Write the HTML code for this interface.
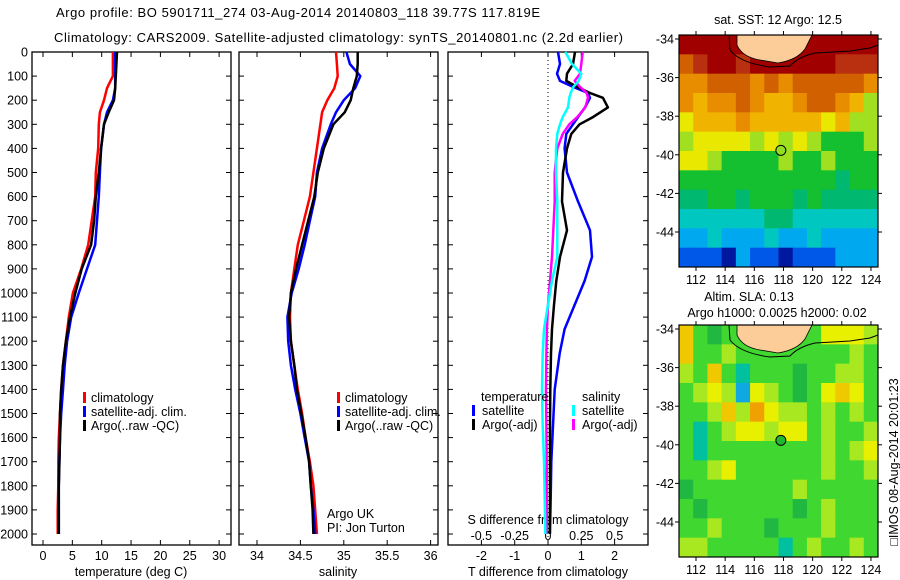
<!DOCTYPE html>
<html><head><meta charset="utf-8">
<style>
html,body{margin:0;padding:0;background:#fff;}
svg{display:block;font-family:"Liberation Sans",sans-serif;}
</style></head>
<body>
<svg id="c" width="900" height="580" viewBox="0 0 900 580" xmlns="http://www.w3.org/2000/svg">
<rect x="0" y="0" width="900" height="580" fill="#fff"/>
<text x="56" y="17" font-size="13" textLength="484">Argo profile: BO 5901711_274 03-Aug-2014 20140803_118 39.77S 117.819E</text>
<text x="54" y="42" font-size="13" textLength="569">Climatology: CARS2009. Satellite-adjusted climatology: synTS_20140801.nc (2.2d earlier)</text>
<g id="maps"></g>
<g id="panels"></g>
<text transform="translate(898,462) rotate(-90)" font-size="12.5" text-anchor="middle">□IMOS 08-Aug-2014 20:01:23</text>
</svg>
<script>
// ---------- DATA ----------
const depths = [0,50,100,150,200,250,300,400,500,600,700,800,900,1000,1100,1200,1300,1400,1500,1600,1700,1800,1900,2000];
const tempClim = [11.9,11.9,11.9,10.9,10.4,9.7,9.5,9.4,9.0,8.9,8.3,7.7,6.5,5.1,4.4,3.9,3.4,3.1,2.9,2.7,2.6,2.6,2.5,2.5];
const tempSat  = [12.3,12.3,12.3,12.3,11.9,10.9,10.4,9.9,9.7,9.5,9.2,8.9,7.5,6.1,4.8,4.1,3.7,3.4,3.1,2.9,2.8,2.7,2.7,2.7];
const tempArgo = [12.6,12.5,12.4,12.3,12.1,11.2,10.4,9.9,9.5,9.0,8.7,8.2,6.6,5.5,4.6,3.9,3.4,3.1,2.9,2.9,2.8,2.7,2.7,2.7];
const salClim = [34.91,34.92,34.93,34.89,34.81,34.75,34.73,34.69,34.65,34.61,34.54,34.47,34.43,34.39,34.38,34.39,34.43,34.47,34.52,34.56,34.61,34.65,34.67,34.69];
const salSat  = [35.03,35.07,35.19,35.13,35.00,34.91,34.85,34.75,34.69,34.67,34.61,34.55,34.48,34.40,34.35,34.36,34.39,34.44,34.50,34.55,34.60,34.62,34.65,34.67];
const salArgo = [35.16,35.16,35.15,35.11,35.08,35.01,34.88,34.77,34.70,34.66,34.59,34.52,34.45,34.39,34.37,34.39,34.43,34.46,34.51,34.56,34.60,34.62,34.64,34.65];
const dDepths = [0,50,90,120,145,170,190,230,270,300,340,400,500,620,740,850,950,1050,1150,1250,1400,1550,1700,1850,2000];
const dTempSat  = [0.30,0.36,0.27,0.36,0.75,1.20,1.26,1.11,0.90,0.75,0.55,0.50,0.57,0.90,1.26,1.32,1.10,0.80,0.50,0.35,0.20,0.15,0.10,0.08,0.06];
const dTempArgo = [0.81,0.75,0.57,0.55,0.87,1.26,1.65,1.80,1.35,0.95,0.70,0.57,0.45,0.42,0.57,0.36,0.25,0.18,0.12,0.09,0.07,0.06,0.06,0.06,0.05];
const dSalSat  = [0.13,0.18,0.25,0.23,0.19,0.17,0.16,0.15,0.11,0.09,0.07,0.06,0.06,0.07,0.07,0.07,0.03,0.0,-0.03,-0.04,-0.045,-0.04,-0.03,-0.025,-0.02];
const dSalArgo = [0.26,0.25,0.24,0.20,0.24,0.29,0.30,0.28,0.22,0.16,0.11,0.07,0.05,0.05,0.04,0.03,0.015,0.0,-0.008,-0.012,-0.015,-0.012,-0.01,-0.01,-0.01];
const depthTicks = [0,100,200,300,400,500,600,700,800,900,1000,1100,1200,1300,1400,1500,1600,1700,1800,1900,2000];
const tempTicks = [0,5,10,15,20,25,30];
const salTicks = [34,34.5,35,35.5,36];
const dTempTicks = [-2,-1,0,1,2];
const dSalTicks = [-0.5,-0.25,0,0.25,0.5];
const dSalTickLabels = ["-0.5","-0.25","0","0.25","0.5"];
const sstGrid = [
[20,20,20,20,20,20,20,20,20,20,20,20,20,20],
[18,19,20,20,19,20,20,20,20,20,20,19,19,19],
[17,17,18,18,18,17,18,17,18,18,18,18,18,17],
[17,16,17,17,18,17,16,16,17,18,18,17,16,14],
[15,16,16,16,17,16,16,16,16,16,15,16,14,14],
[14,15,15,15,15,14,15,14,15,14,13,13,13,14],
[15,15,14,13,13,13,13,14,13,13,14,13,13,13],
[13,13,13,13,13,13,13,13,13,13,13,12,13,13],
[12,12,13,13,12,13,13,13,12,13,12,12,12,12],
[11,11,11,11,11,11,12,12,11,11,11,11,11,11],
[10,10,11,10,10,10,11,10,10,11,10,10,10,10],
[9,9,9,8,10,9,9,8,9,9,9,10,10,10]];
const slaGrid = [
[6,3,2,3,3,3,3,3,3,3,5,5,5,4],
[6,3,3,4,3,3,3,3,3,3,3,3,4,3],
[4,3,6,3,1,3,3,3,2,3,3,4,4,3],
[3,4,5,4,0,5,4,3,2,3,5,6,5,3],
[3,3,4,6,4,7,5,4,4,3,4,3,4,3],
[3,1,3,4,5,5,4,5,5,3,4,3,3,4],
[3,1,3,3,3,3,3,3,3,3,4,3,4,5],
[3,3,4,5,3,3,3,3,3,3,4,3,3,4],
[2,3,3,3,3,3,3,3,4,3,3,3,3,3],
[3,2,3,3,3,3,3,3,2,3,4,3,3,3],
[3,3,4,3,3,3,2,3,3,3,4,3,3,3],
[4,4,3,3,3,3,3,1,3,4,3,3,4,3]];
const lonTicks = [112,114,116,118,120,122,124];
const latTicks = [-34,-36,-38,-40,-42,-44];
const argoLon = 117.819, argoLat = -39.77;

// ---------- helpers ----------
const NS = "http://www.w3.org/2000/svg";
function mk(tag, attrs, parent){const e=document.createElementNS(NS,tag);for(const k in attrs)e.setAttribute(k,attrs[k]);parent.appendChild(e);return e;}
const P = document.getElementById('panels');
const M = document.getElementById('maps');
const Y0=52, Y1=545;
const dy = d => Y0 + d*0.241;

function panel(x0,x1,name){
  const r=mk('rect',{x:x0,y:Y0,width:x1-x0,height:Y1-Y0,fill:'none',stroke:'#000','stroke-width':1.3},P);
  
  
  depthTicks.forEach(d=>{
    const y=dy(d);
    const t1=mk('line',{x1:x0,x2:x0+5,y1:y,y2:y,stroke:'#000'},P);
    
    
    const t2=mk('line',{x1:x1-5,x2:x1,y1:y,y2:y,stroke:'#000'},P);
    
    
  });
}
function xticks(vals,fx,labels,ylab,name){
  vals.forEach((v,i)=>{
    const x=fx(v);
    const a=mk('line',{x1:x,x2:x,y1:Y1,y2:Y1-5,stroke:'#000'},P);
    
    
    const b=mk('line',{x1:x,x2:x,y1:Y0,y2:Y0+5,stroke:'#000'},P);
    
    
    const t=mk('text',{x:x,y:ylab,'font-size':12.5,'text-anchor':'middle'},P);
    t.textContent=labels?labels[i]:String(v);
    
    
  });
}
function line(xs,ds,fx,color,name,w){
  const pts=xs.map((v,i)=>fx(v).toFixed(1)+','+dy(ds[i]).toFixed(1)).join(' ');
  const l=mk('polyline',{points:pts,fill:'none',stroke:color,'stroke-width':w||2.5,'stroke-linejoin':'round'},P);
  
  
}
function txt(x,y,s,size,anchor,name,g){
  const t=mk('text',{x:x,y:y,'font-size':size,'text-anchor':anchor||'start'},g||P);
  t.textContent=s;
  
  
  return t;
}
function legendBar(x,y,color,name){
  const r=mk('rect',{x:x,y:y-6,width:3,height:11,fill:color},P);
  
  
}

// ---------- depth labels ----------
depthTicks.forEach(d=>{
  const t=mk('text',{x:28,y:dy(d)+4.5,'font-size':12.5,'text-anchor':'end'},P);
  t.textContent=String(d);
  
  
});

// ---------- Panel 1: temperature ----------
const fT = v => 43 + v*5.87;
panel(32,231,'temperature-panel');
xticks(tempTicks,fT,null,560,'temperature-axis');
txt(131,576,'temperature (deg C)',12.5,'middle','temperature-axis-title');
line(tempClim,depths,fT,'#ff0000','temperature-climatology-line');
line(tempSat,depths,fT,'#0000ff','temperature-satellite-line');
line(tempArgo,depths,fT,'#000000','temperature-argo-line');
legendBar(83,398,'#ff0000','legend-climatology-marker');
txt(91,402,'climatology',12.5,'start','legend-climatology');
legendBar(83,412,'#0000ff','legend-satellite-marker');
txt(91,416,'satellite-adj. clim.',12.5,'start','legend-satellite');
legendBar(83,426,'#000000','legend-argo-marker');
txt(91,430,'Argo(..raw -QC)',12.5,'start','legend-argo');

// ---------- Panel 2: salinity ----------
const fS = v => 257 + (v-34)*86.8;
panel(239,438,'salinity-panel');
xticks(salTicks,fS,null,560,'salinity-axis');
txt(338,576,'salinity',12.5,'middle','salinity-axis-title');
line(salClim,depths,fS,'#ff0000','salinity-climatology-line');
line(salSat,depths,fS,'#0000ff','salinity-satellite-line');
line(salArgo,depths,fS,'#000000','salinity-argo-line');
legendBar(337,398,'#ff0000','legend2-climatology-marker');
txt(345,402,'climatology',12.5,'start','legend2-climatology');
legendBar(337,412,'#0000ff','legend2-satellite-marker');
txt(345,416,'satellite-adj. clim.',12.5,'start','legend2-satellite');
legendBar(337,426,'#000000','legend2-argo-marker');
txt(345,430,'Argo(..raw -QC)',12.5,'start','legend2-argo');
txt(327,518,'Argo UK',12.5,'start','argo-uk-label');
txt(327,532,'PI: Jon Turton',12.5,'start','pi-label');

// ---------- Panel 3: differences ----------
const fDT = v => 548 + v*33.3;
const fDS = v => 548 + v*133.3;
panel(448,648,'difference-panel');
const zl=mk('line',{x1:548,x2:548,y1:Y0,y2:Y1,stroke:'#000','stroke-dasharray':'1,3'},P);


xticks(dTempTicks,fDT,null,560,'t-diff-axis');
dSalTicks.forEach((v,i)=>{
  txt(fDS(v),540,dSalTickLabels[i],12.5,'middle','s-diff-label');
});
txt(548,524,'S difference from climatology',12.5,'middle','s-diff-axis-title');
txt(548,576,'T difference from climatology',12.5,'middle','t-diff-axis-title');
line(dTempSat,dDepths,fDT,'#0000ff','t-diff-satellite-line');
line(dTempArgo,dDepths,fDT,'#000000','t-diff-argo-line');
line(dSalArgo,dDepths,fDS,'#ff00ff','s-diff-argo-line');
line(dSalSat,dDepths,fDS,'#00ffff','s-diff-satellite-line');
txt(481,401,'temperature',12.5,'start','legend3-temperature-header');
txt(582,401,'salinity',12.5,'start','legend3-salinity-header');
legendBar(472,411,'#0000ff','legend3-t-satellite-marker');
txt(482,415,'satellite',12.5,'start','legend3-t-satellite');
legendBar(472,425,'#000000','legend3-t-argo-marker');
txt(482,429,'Argo(-adj)',12.5,'start','legend3-t-argo');
legendBar(572,411,'#00ffff','legend3-s-satellite-marker');
txt(582,415,'satellite',12.5,'start','legend3-s-satellite');
legendBar(572,425,'#ff00ff','legend3-s-argo-marker');
txt(582,429,'Argo(-adj)',12.5,'start','legend3-s-argo');

// ---------- Maps ----------
const sstColors={8:'#0018a0',9:'#0058e8',10:'#00a8f0',11:'#00c8c0',12:'#00b870',13:'#14c030',14:'#a0e020',15:'#e8e800',16:'#f0b400',17:'#e88c00',18:'#d06000',19:'#b83010',20:'#a00000'};
const slaColors=['#10a8e0','#00c0a0','#20b840','#40d830','#a8e820','#e8f000','#f0c800','#f0a000'];
function drawMap(top,grid,colors,name){
  const X0=679,X1=878,H=232,Yb=top+H;
  const fx = lon => 696 + (lon-112)*14.58;
  const fy = lat => (top+4) + (-34-lat)*19.3;
  const g=mk('g',{},M);
  
  
  const rows=grid.length, cols=grid[0].length, cw=(X1-X0)/cols, ch=H/rows;
  grid.forEach((row,r)=>row.forEach((v,c)=>{
    const cell=mk('rect',{x:X0+c*cw,y:top+r*ch,width:cw+0.5,height:ch+0.5,fill:colors[v]},g);
    
    
  }));
  const land=mk('path',{d:`M737,${top} L737,${top+10} Q742,${top+22} 760,${top+25} L778,${top+28} Q797,${top+25} 805,${top+14} L812,${top}Z`,fill:'#fccc99',stroke:'#000','stroke-width':0.8},g);
  
  
  const cont=mk('path',{d:`M729,${top} L730,${top+15} Q740,${top+28} 770,${top+32} L790,${top+31} Q798,${top+22} 815,${top+18} L850,${top+16} L870,${top+13} L878,${top+10}`,fill:'none',stroke:'#000','stroke-width':1},g);
  
  
  const fr=mk('rect',{x:X0,y:top,width:X1-X0,height:H,fill:'none',stroke:'#000','stroke-width':1.2},g);
  
  
  lonTicks.forEach(l=>{
    const x=fx(l);
    const a=mk('line',{x1:x,x2:x,y1:Yb,y2:Yb+4,stroke:'#000'},g);
    
    
    const b=mk('line',{x1:x,x2:x,y1:top-4,y2:top,stroke:'#000'},g);
    
    
    txt(x,Yb+17,String(l),12.5,'middle','lon-label',g);
  });
  latTicks.forEach(l=>{
    const y=fy(l);
    const a=mk('line',{x1:X0-4,x2:X0,y1:y,y2:y,stroke:'#000'},g);
    
    
    const b=mk('line',{x1:X1,x2:X1+4,y1:y,y2:y,stroke:'#000'},g);
    
    
    txt(674,y+4.5,String(l),12.5,'end','lat-label',g);
  });
  const dot=mk('circle',{cx:fx(argoLon),cy:fy(argoLat),r:5,fill:name==='sst-map'?'#90e020':'#20b830',stroke:'#000','stroke-width':1},g);
  
  
}
drawMap(35,sstGrid,sstColors,'sst-map');
drawMap(325,slaGrid,slaColors,'sla-map');
txt(778,24,'sat. SST: 12 Argo: 12.5',12.5,'middle','sst-map-title',M);
txt(749,301,'Altim. SLA: 0.13',12.5,'middle','sla-map-title',M);
txt(777,317,'Argo h1000: 0.0025 h2000: 0.02',12.5,'middle','sla-map-subtitle',M);
</script>
</body></html>
